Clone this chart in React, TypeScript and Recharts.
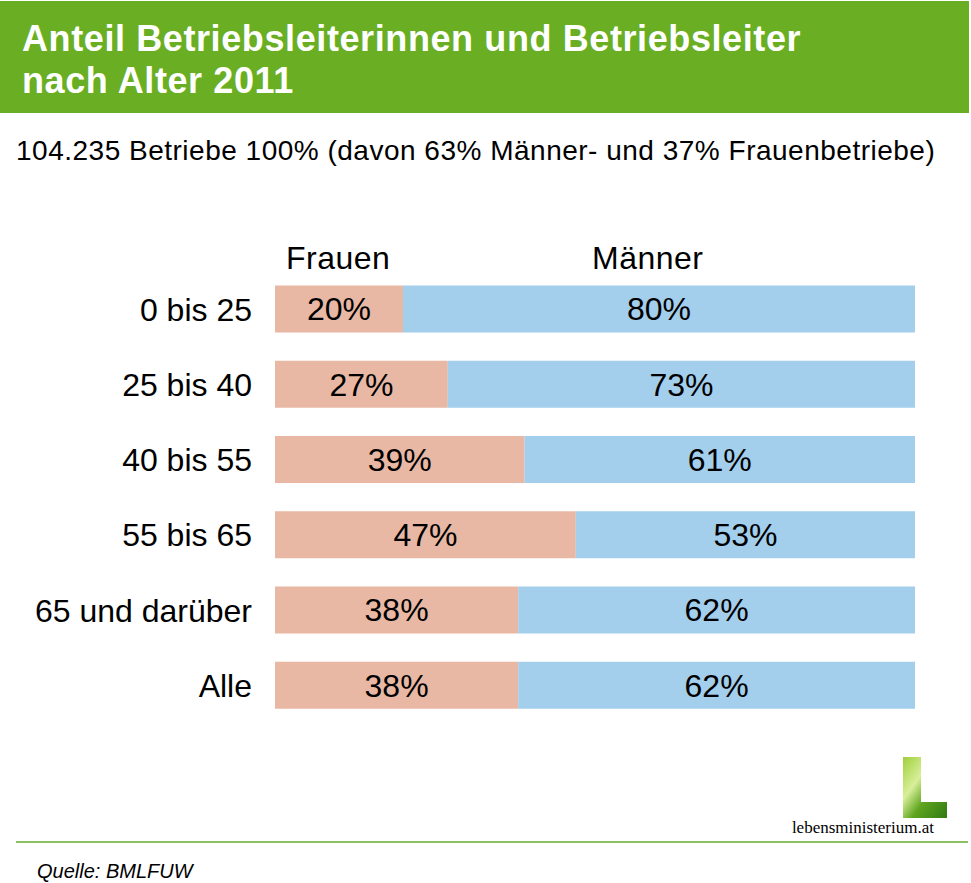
import React from "react";
import { BarChart, Bar, XAxis, YAxis, LabelList } from "recharts";

const AGE_GROUPS = ["0 bis 25", "25 bis 40", "40 bis 55", "55 bis 65", "65 und darüber", "Alle"];
const FRAUEN = [20, 27, 39, 47, 38, 38];
const MAENNER = [80, 73, 61, 53, 62, 62];

const data = AGE_GROUPS.map((age, i) => ({
  age,
  frauen: FRAUEN[i],
  maenner: MAENNER[i],
}));

const FONT = '"Liberation Sans", Arial, Helvetica, sans-serif';

function Logo() {
  return (
    <svg
      width={44}
      height={61}
      style={{ position: "absolute", left: 903, top: 757 }}
    >
      <defs>
        <linearGradient id="leaf" x1="0" y1="0" x2="1" y2="1">
          <stop offset="0%" stopColor="#9fcf3a" />
          <stop offset="35%" stopColor="#d8ef9a" />
          <stop offset="60%" stopColor="#5fa51f" />
          <stop offset="100%" stopColor="#2f7a14" />
        </linearGradient>
      </defs>
      <path d="M0 0 H18 V45 H44 V61 H0 Z" fill="url(#leaf)" />
    </svg>
  );
}

export default function App() {
  return (
    <div
      style={{
        position: "absolute",
        left: 0,
        top: 0,
        width: 971,
        height: 883,
        background: "#ffffff",
        fontFamily: FONT,
        overflow: "hidden",
      }}
    >
      {/* header */}
      <div
        style={{
          position: "absolute",
          left: 0,
          top: 1,
          width: 969,
          height: 112,
          background: "#6aaf23",
        }}
      />
      <div
        style={{
          position: "absolute",
          left: 22,
          top: 18,
          color: "#ffffff",
          fontWeight: "bold",
          fontSize: 36,
          lineHeight: "42px",
          letterSpacing: 0.6,
          whiteSpace: "nowrap",
        }}
      >
        Anteil Betriebsleiterinnen und Betriebsleiter
        <br />
        nach Alter 2011
      </div>
      <div
        style={{
          position: "absolute",
          left: 16,
          top: 137,
          fontSize: 28,
          lineHeight: "28px",
          letterSpacing: 0.5,
          color: "#000",
          whiteSpace: "nowrap",
        }}
      >
        104.235 Betriebe 100% (davon 63% Männer- und 37% Frauenbetriebe)
      </div>

      {/* legend labels */}
      <div style={{ position: "absolute", left: 286, top: 242, fontSize: 32, lineHeight: "32px", letterSpacing: 0.5 }}>
        Frauen
      </div>
      <div style={{ position: "absolute", left: 592, top: 242, fontSize: 32, lineHeight: "32px", letterSpacing: 0.5 }}>
        Männer
      </div>

      <div style={{ position: "absolute", left: 0, top: 0 }}>
        <BarChart
          width={971}
          height={883}
          data={data}
          layout="vertical"
          margin={{ top: 271.6, right: 56, bottom: 159.9, left: 0 }}
        >
          <XAxis type="number" domain={[0, 100]} hide />
          <YAxis
            type="category"
            dataKey="age"
            width={275}
            axisLine={false}
            tickLine={false}
            tickSize={0}
            tickMargin={23}
            tick={{ fill: "#000", fontSize: 32 }}
          />
          <Bar dataKey="frauen" stackId="a" fill="#e8b8a4" barSize={47} isAnimationActive={false}>
            <LabelList
              dataKey="frauen"
              position="center"
              formatter={(v: number) => `${v}%`}
              fill="#000"
              fontSize={32}
            />
          </Bar>
          <Bar dataKey="maenner" stackId="a" fill="#a3ceec" barSize={47} isAnimationActive={false}>
            <LabelList
              dataKey="maenner"
              position="center"
              formatter={(v: number) => `${v}%`}
              fill="#000"
              fontSize={32}
            />
          </Bar>
        </BarChart>
      </div>

      {/* footer */}
      <Logo />
      <div
        style={{
          position: "absolute",
          right: 37,
          top: 819,
          fontFamily: '"Liberation Serif", "Times New Roman", serif',
          fontSize: 17,
          lineHeight: "17px",
          color: "#000",
        }}
      >
        lebensministerium.at
      </div>
      <div
        style={{
          position: "absolute",
          left: 16,
          top: 841,
          width: 952,
          height: 2,
          background: "#8cc063",
        }}
      />
      <div
        style={{
          position: "absolute",
          left: 37,
          top: 861,
          fontSize: 20,
          lineHeight: "20px",
          fontStyle: "italic",
          color: "#000",
        }}
      >
        Quelle: BMLFUW
      </div>
    </div>
  );
}
